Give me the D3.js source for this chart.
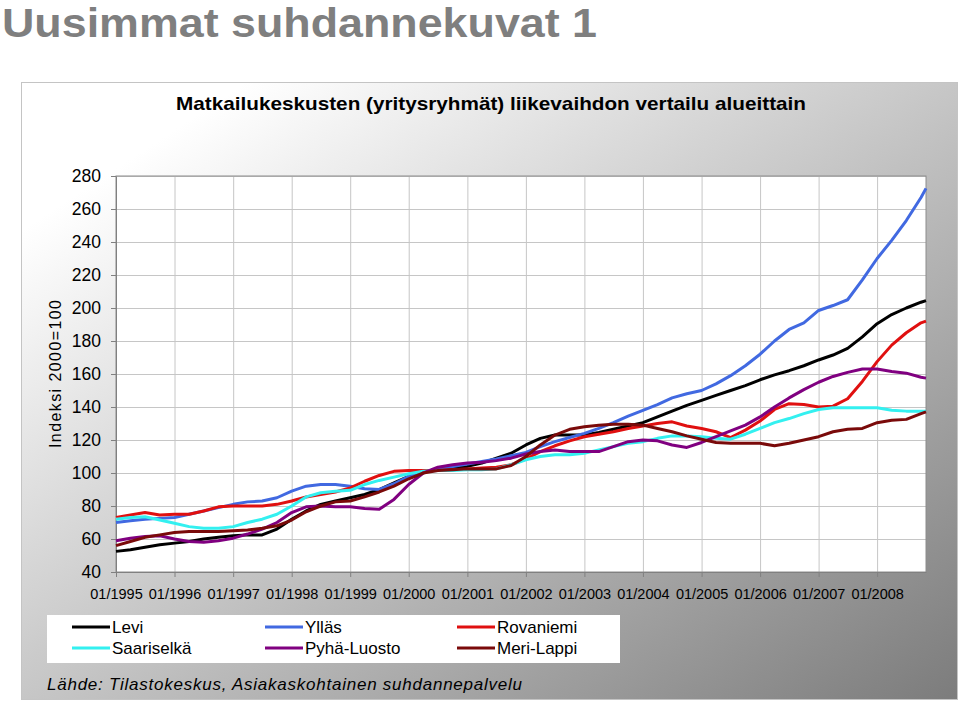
<!DOCTYPE html>
<html>
<head>
<meta charset="utf-8">
<script src="https://cdn.jsdelivr.net/npm/d3@7"></script>
<style>
  html, body { margin: 0; padding: 0; background: #fff; }
  svg { display: block; font-family: "Liberation Sans", Arial, sans-serif; }
</style>
</head>
<body>
<div id="chart"></div>
<script>
// quarterly readings, last point 11/2008
const months = ["1995-01","1995-04","1995-07","1995-10","1996-01","1996-04","1996-07","1996-10",
  "1997-01","1997-04","1997-07","1997-10","1998-01","1998-04","1998-07","1998-10",
  "1999-01","1999-04","1999-07","1999-10","2000-01","2000-04","2000-07","2000-10",
  "2001-01","2001-04","2001-07","2001-10","2002-01","2002-04","2002-07","2002-10",
  "2003-01","2003-04","2003-07","2003-10","2004-01","2004-04","2004-07","2004-10",
  "2005-01","2005-04","2005-07","2005-10","2006-01","2006-04","2006-07","2006-10",
  "2007-01","2007-04","2007-07","2007-10","2008-01","2008-04","2008-07","2008-10","2008-11"];

const levi = [52.5,53.5,55,56.5,57.5,58.5,60,61,62,62.5,62.5,66,72,77,81,83,85,87,90,94,98,101,102,103,104,106,109,112,117,121,123,123,123,124.5,126.5,128.5,130.5,134,137.5,141,144,147,150,153,156.5,159.5,162,165,168.5,171.5,175.5,182.5,190.5,196,200,203.5,204.5];
const yllas = [70,71,72,72.5,73,75,77,79,81,82.5,83,85,89,92,93,93,92,90.5,90,93.5,98,100.5,102.5,104,105.5,107,108.5,110.5,112.5,116,119,121.5,124,127,130.5,134.5,138,141.5,145.5,148,150,154,159,165,172,180,187,191,198.5,201.5,205,217,230,241,253,267,272.5];
const rovaniemi = [73,74.5,76,74.5,75,75,77,79.5,80,80,80,81,83,85.5,87,88.5,91,95,98.5,101,101.5,101.5,101.5,102,102.5,103,103.5,105,108.5,113,116.5,119.5,122,123.5,125,127,128.5,130,131,128.5,127,125,121.5,126,131.5,138.5,142,141.5,140,140.5,145,155.5,167.5,177.5,185,191,192];
const saariselka = [72,73,73.5,71.5,69.5,67.5,66.5,66.5,67.5,70,72,75,80,85.5,88,89,89.5,93,95.5,97.5,99.5,101,101.5,101.5,102,102,102.5,105,108,110,111,111,112,114,116,118,119,121,122.5,122.5,122,121,120.5,123.5,127,130.5,133,136,138.5,139.5,139.5,139.5,139.5,138,137.5,137.5,137.5];
const pyhaLuosto = [59,60.5,61.5,62,60,58.5,58,59,60.5,63,66,70,76,79.5,80,79.5,79.5,78.5,78,84,93,100,103.5,105,106,106.5,107.5,109,111.5,113,114,113,113,113,116,119,120,119.5,117,115.5,118.5,122,125.5,129,134,140,145.5,150.5,155,158.5,161,163,163,161.5,160.5,158,157.5];
const meriLappi = [56,58.5,61,62.5,64,64.5,64.5,64.5,65,65.5,66.5,68,71.5,76.5,80,82.5,83,85.5,88.5,92,96.5,100,101.5,102,102.5,102.5,102.5,104.5,110,117,123,126.5,128,129,129.5,129.5,129,127,125,122.5,120.5,118.5,118,118,118,116.5,118,120,122,125,126.5,127,130.5,132,132.5,136,137];

const seriesNames = ["Levi", "Ylläs", "Rovaniemi", "Saariselkä", "Pyhä-Luosto", "Meri-Lappi"];
const seriesColors = ["#000000", "#4169e1", "#e01010", "#33f0f0", "#800080", "#7a0a0a"];
const seriesValues = [levi, yllas, rovaniemi, saariselka, pyhaLuosto, meriLappi];

const xTickLabels = ["01/1995","01/1996","01/1997","01/1998","01/1999","01/2000","01/2001",
  "01/2002","01/2003","01/2004","01/2005","01/2006","01/2007","01/2008"];
const yTicks = [40, 60, 80, 100, 120, 140, 160, 180, 200, 220, 240, 260, 280];

const width = 960, height = 703;
const plot = { left: 116, right: 926, top: 176, bottom: 572 };

const parseMonth = d3.timeParse('%Y-%m');
const parseTick = d3.timeParse('%m/%Y');
const dates = months.map(parseMonth);

const svg = d3.select('#chart').append('svg')
    .attr('width', width)
    .attr('height', height);

const defs = svg.append('defs');
const grad = defs.append('linearGradient')
    .attr('id', 'bg')
    .attr('x1', 0).attr('y1', 0).attr('x2', 1).attr('y2', 1);
grad.append('stop').attr('offset', '0%').attr('stop-color', '#ffffff');
grad.append('stop').attr('offset', '12%').attr('stop-color', '#ffffff');
grad.append('stop').attr('offset', '100%').attr('stop-color', '#7c7c7c');

// page title
svg.append('text')
    .attr('x', 2).attr('y', 37)
    .attr('font-family', '"Liberation Sans Narrow", "Arial Narrow", "Liberation Sans", sans-serif')
    .attr('font-weight', 'bold')
    .attr('font-size', 40)
    .attr('fill', '#7f7f7f')
    .attr('textLength', 595)
    .attr('lengthAdjust', 'spacingAndGlyphs')
    .text('Uusimmat suhdannekuvat 1');

// chart frame
svg.append('rect')
    .attr('x', 21.5).attr('y', 82.5)
    .attr('width', 936).attr('height', 617)
    .attr('fill', 'url(#bg)')
    .attr('stroke', '#c4c4c4');

svg.append('text')
    .attr('x', 491).attr('y', 110)
    .attr('text-anchor', 'middle')
    .attr('font-family', '"Liberation Sans Narrow", "Arial Narrow", "Liberation Sans", sans-serif')
    .attr('font-weight', 'bold')
    .attr('font-size', 19)
    .attr('textLength', 630)
    .attr('lengthAdjust', 'spacingAndGlyphs')
    .text('Matkailukeskusten (yritysryhmät) liikevaihdon vertailu alueittain');

const xScale = d3.scaleTime()
    .domain(d3.extent(dates))
    .range([plot.left, plot.right]);

const yScale = d3.scaleLinear()
    .domain([40, 280])
    .range([plot.bottom, plot.top]);

// plot background
svg.append('rect')
    .attr('x', plot.left).attr('y', plot.top)
    .attr('width', plot.right - plot.left).attr('height', plot.bottom - plot.top)
    .attr('fill', '#ffffff');

const tickDates = xTickLabels.map(parseTick);

// gridlines
svg.append('g')
    .attr('transform', `translate(${plot.left},0)`)
    .call(d3.axisLeft(yScale).tickValues(yTicks).tickFormat('').tickSize(-(plot.right - plot.left)))
    .call(g => g.select('.domain').remove())
    .call(g => g.selectAll('line').attr('stroke', '#c6c6c6'));

svg.append('g')
    .attr('transform', `translate(0,${plot.top})`)
    .call(d3.axisBottom(xScale).tickValues(tickDates).tickFormat('').tickSize(plot.bottom - plot.top))
    .call(g => g.select('.domain').remove())
    .call(g => g.selectAll('line').attr('stroke', '#c6c6c6'));

// plot border
svg.append('rect')
    .attr('x', plot.left).attr('y', plot.top)
    .attr('width', plot.right - plot.left).attr('height', plot.bottom - plot.top)
    .attr('fill', 'none')
    .attr('stroke', '#8c8c8c');

// axes
svg.append('g')
    .attr('transform', `translate(${plot.left},0)`)
    .call(d3.axisLeft(yScale).tickValues(yTicks).tickSize(5).tickPadding(10).tickSizeOuter(0))
    .call(g => g.select('.domain').attr('stroke', '#808080'))
    .call(g => g.selectAll('line').attr('stroke', '#808080'))
    .call(g => g.selectAll('text')
        .attr('font-size', 17.5)
        .attr('font-family', '"Liberation Sans", Arial, sans-serif')
        .attr('fill', '#000'));

svg.append('g')
    .attr('transform', `translate(0,${plot.bottom})`)
    .call(d3.axisBottom(xScale).tickValues(tickDates).tickFormat(d3.timeFormat('%m/%Y')).tickSize(5).tickPadding(12).tickSizeOuter(0))
    .call(g => g.select('.domain').attr('stroke', '#808080'))
    .call(g => g.selectAll('line').attr('stroke', '#808080'))
    .call(g => g.selectAll('text')
        .attr('font-size', 14.5)
        .attr('font-family', '"Liberation Sans", Arial, sans-serif')
        .attr('fill', '#000'));

svg.append('text')
    .attr('transform', 'translate(61,374) rotate(-90)')
    .attr('text-anchor', 'middle')
    .attr('font-size', 16)
    .attr('textLength', 148)
    .attr('lengthAdjust', 'spacing')
    .text('Indeksi 2000=100');

// lines
const line = d3.line()
    .x((d, i) => xScale(dates[i]))
    .y(d => yScale(d));

svg.append('g')
    .selectAll('path')
    .data(seriesValues)
    .join('path')
    .attr('d', d => line(d))
    .attr('fill', 'none')
    .attr('stroke', (d, i) => seriesColors[i])
    .attr('stroke-width', 3)
    .attr('stroke-linejoin', 'round');

// legend
svg.append('rect')
    .attr('x', 47).attr('y', 615)
    .attr('width', 573).attr('height', 48)
    .attr('fill', '#ffffff');

const legendCols = [72, 265, 457];
const legendRows = [627, 648];

const legendItems = svg.append('g')
    .selectAll('g')
    .data(seriesNames)
    .join('g')
    .attr('transform', (d, i) => `translate(${legendCols[i % 3]},${legendRows[Math.floor(i / 3)]})`);

legendItems.append('line')
    .attr('x1', 0).attr('x2', 38)
    .attr('stroke', (d, i) => seriesColors[i])
    .attr('stroke-width', 3);

legendItems.append('text')
    .attr('x', 40).attr('y', 6)
    .attr('font-size', 17)
    .text(d => d);

// source
svg.append('text')
    .attr('x', 47).attr('y', 690)
    .attr('font-size', 17)
    .attr('font-style', 'italic')
    .attr('textLength', 475)
    .attr('lengthAdjust', 'spacing')
    .text('Lähde: Tilastokeskus, Asiakaskohtainen suhdannepalvelu');
</script>
</body>
</html>
